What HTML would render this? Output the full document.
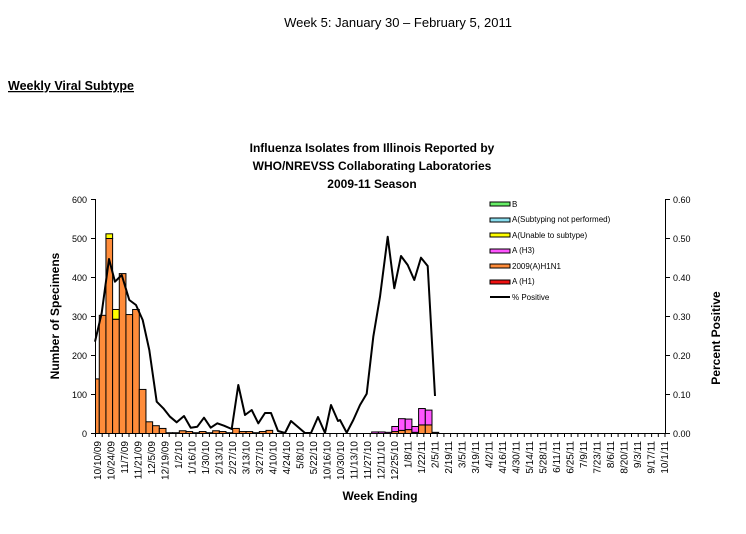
<!DOCTYPE html>
<html><head><meta charset="utf-8"><style>
body{margin:0;background:#fff;width:746px;height:529px;overflow:hidden;font-family:"Liberation Sans",sans-serif}
</style></head><body>
<svg width="746" height="529" xmlns="http://www.w3.org/2000/svg" font-family="Liberation Sans, sans-serif">
<text x="398" y="27" font-size="13" text-anchor="middle">Week 5:  January 30 – February 5, 2011</text>
<text x="8" y="90" font-size="12.5" font-weight="bold" text-decoration="underline">Weekly Viral Subtype</text>
<g font-size="12" font-weight="bold" text-anchor="middle">
<text x="372" y="152">Influenza  Isolates from Illinois Reported by</text>
<text x="372" y="170">WHO/NREVSS Collaborating  Laboratories</text>
<text x="372" y="188">2009-11  Season</text>
</g>
<g stroke="#000" stroke-width="1" fill="none">
<line x1="95.5" y1="199" x2="95.5" y2="433.5"/>
<line x1="665.5" y1="199" x2="665.5" y2="433.5"/>
<line x1="95" y1="433.5" x2="666" y2="433.5"/>
</g>
<g stroke="#000" stroke-width="1" id="lt">
<line x1="91" y1="199.5" x2="95" y2="199.5"/><line x1="91" y1="238.5" x2="95" y2="238.5"/>
<line x1="91" y1="277.5" x2="95" y2="277.5"/><line x1="91" y1="316.5" x2="95" y2="316.5"/>
<line x1="91" y1="355.5" x2="95" y2="355.5"/><line x1="91" y1="394.5" x2="95" y2="394.5"/>
<line x1="91" y1="433.5" x2="95" y2="433.5"/>
<line x1="666" y1="199.5" x2="670" y2="199.5"/><line x1="666" y1="238.5" x2="670" y2="238.5"/>
<line x1="666" y1="277.5" x2="670" y2="277.5"/><line x1="666" y1="316.5" x2="670" y2="316.5"/>
<line x1="666" y1="355.5" x2="670" y2="355.5"/><line x1="666" y1="394.5" x2="670" y2="394.5"/>
<line x1="666" y1="433.5" x2="670" y2="433.5"/>
</g>
<g font-size="9" text-anchor="end">
<text x="87" y="203">600</text><text x="87" y="242">500</text><text x="87" y="281">400</text>
<text x="87" y="320">300</text><text x="87" y="359">200</text><text x="87" y="398">100</text><text x="87" y="437">0</text>
</g>
<g font-size="9">
<text x="673" y="203">0.60</text><text x="673" y="242">0.50</text><text x="673" y="281">0.40</text>
<text x="673" y="320">0.30</text><text x="673" y="359">0.20</text><text x="673" y="398">0.10</text><text x="673" y="437">0.00</text>
</g>
<text transform="translate(59,316) rotate(-90)" font-size="12" font-weight="bold" text-anchor="middle">Number of Specimens</text>
<text transform="translate(720,338) rotate(-90)" font-size="12" font-weight="bold" text-anchor="middle">Percent Positive</text>
<text x="380" y="500" font-size="12" font-weight="bold" text-anchor="middle">Week Ending</text>
<g id="bars" stroke="#000" stroke-width="1"></g>
<g id="xt" stroke="#000" stroke-width="1"></g>
<g id="xl" font-size="10"></g>
<polyline id="pl" fill="none" stroke="#000" stroke-width="2" stroke-linejoin="round"/>
<g font-size="8" stroke-width="1">
<rect x="490" y="202" width="20" height="4" fill="#66ee66" stroke="#000"/><text x="512" y="207">B</text>
<rect x="490" y="218" width="20" height="4" fill="#88ddee" stroke="#000"/><text x="512" y="222">A(Subtyping not performed)</text>
<rect x="490" y="233" width="20" height="4" fill="#ffff00" stroke="#000"/><text x="512" y="238">A(Unable to subtype)</text>
<rect x="490" y="249" width="20" height="4" fill="#ff55ff" stroke="#000"/><text x="512" y="253">A (H3)</text>
<rect x="490" y="264" width="20" height="4" fill="#ff8c3a" stroke="#000"/><text x="512" y="269">2009(A)H1N1</text>
<rect x="490" y="280" width="20" height="4" fill="#ee1111" stroke="#000"/><text x="512" y="284">A (H1)</text>
<line x1="490" y1="297" x2="510" y2="297" stroke="#000" stroke-width="2"/><text x="512" y="300">% Positive</text>
</g>
</svg>
<script>
var NS="http://www.w3.org/2000/svg";
function el(p,t,a,txt){var e=document.createElementNS(NS,t);for(var k in a)e.setAttribute(k,a[k]);if(txt)e.textContent=txt;document.getElementById(p).appendChild(e);return e;}
var sc=0.39, base=433.5;
function bar(x,w,segs){var y=base;segs.forEach(function(s){if(s[0]<=0)return;var h=s[0]*sc;y-=h;el("bars","rect",{x:x,y:y,width:w,height:h,fill:s[1]});});}
var O="#ff8c3a",Y="#ffff00",P="#ff55ff";
var left={0:[[140,O]],1:[[303,O]],2:[[500,O],[12,Y]],3:[[293,O],[25,Y]],4:[[410,O]],5:[[305,O]],6:[[318,O]],7:[[113,O]],8:[[30,O]],9:[[20,O]],10:[[13,O]],11:[[2,O]],12:[[2,O]],13:[[7,O]],14:[[5,O]],15:[[2,O]],16:[[5,O]],17:[[2,O]],18:[[7,O]],19:[[5,O]],20:[[2,O]],21:[[13,O]],22:[[5,O]],23:[[5,O]],24:[[2,O]],25:[[5,O]],26:[[8,O]]};
for(var i in left){var x=92.6+6.67*i;var w=6.67;if(x<95.5){w-=95.5-x;x=95.5;}bar(x,w,left[i]);}
var right=[[[0,O],[4,P]],[[0,O],[4,P]],[[0,O],[3,P]],[[5,O],[13,P]],[[8,O],[30,P]],[[10,O],[27,P]],[[3,O],[15,P]],[[22,O],[42,P]],[[22,O],[38,P]],[[3,"#333"]]];
right.forEach(function(s,j){bar(371.7+6.7*j,6.7,s);});
for(var k=0;k<=85;k++){var x=95.5+6.7*k;if(x>666)break;el("xt","line",{x1:x,y1:433.5,x2:x,y2:437});}
var labs="10/10/09 10/24/09 11/7/09 11/21/09 12/5/09 12/19/09 1/2/10 1/16/10 1/30/10 2/13/10 2/27/10 3/13/10 3/27/10 4/10/10 4/24/10 5/8/10 5/22/10 10/16/10 10/30/10 11/13/10 11/27/10 12/11/10 12/25/10 1/8/11 1/22/11 2/5/11 2/19/11 3/5/11 3/19/11 4/2/11 4/16/11 4/30/11 5/14/11 5/28/11 6/11/11 6/25/11 7/9/11 7/23/11 8/6/11 8/20/11 9/3/11 9/17/11 10/1/11".split(" ");
labs.forEach(function(l,k){var x=97.7+13.5*k+3.5;el("xl","text",{transform:"translate("+x+",441) rotate(-90)","text-anchor":"end"},l);});
var pts=[[95,341.7],[101.7,313],[109,259],[115,281.7],[121.7,275],[129.3,300],[136,305],[142.7,320],[149.3,350],[156.7,401.7],[163.3,408.3],[170,416.7],[176.7,422.3],[184,416],[190.7,427.7],[197.3,426.7],[204,417.7],[210.7,427.7],[217.3,423.3],[224,425.7],[231.7,429],[238.3,385],[245,415],[251.7,410],[258.3,423.3],[265,413],[271,413],[278,431],[285,433],[291,421],[298,427],[305,433],[311,433],[318,417],[325,433],[331,405],[338,421],[340,420],[346.7,432.7],[353.3,420],[360,405],[366.7,393.7],[373.3,336.7],[380,296.7],[387.7,236.7],[394.3,288.3],[401,256],[407.7,265],[414.3,280],[421,257.7],[427.7,266],[435,396]];
document.getElementById("pl").setAttribute("points",pts.map(function(p){return p.join(",")}).join(" "));
</script>
</body></html>
